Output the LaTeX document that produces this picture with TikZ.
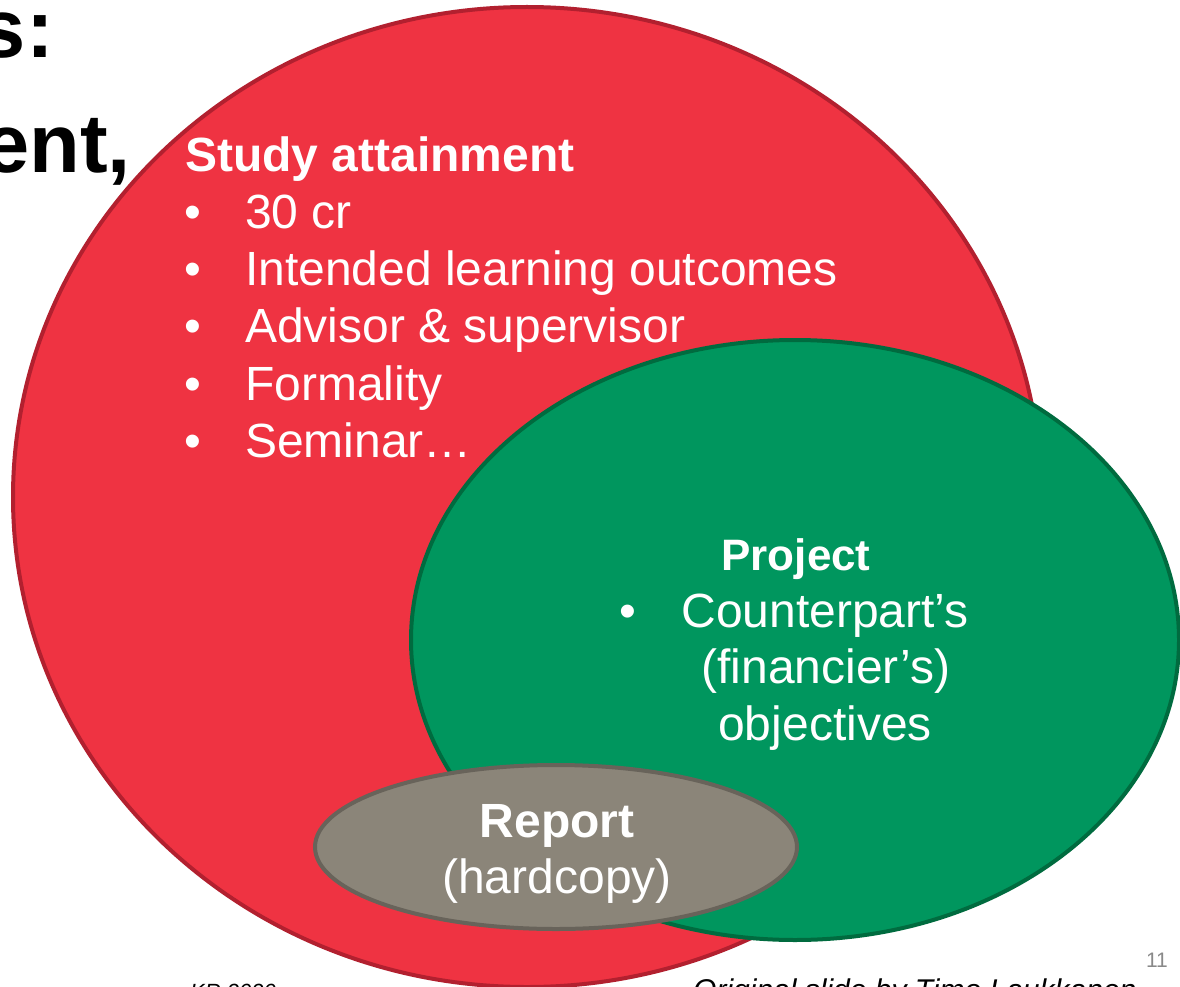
\documentclass[tikz,border=0pt]{standalone}
\usepackage{fontspec}
\setmainfont{Liberation Sans}
\definecolor{redfill}{HTML}{EF3342}
\definecolor{redline}{HTML}{B2202F}
\definecolor{greenfill}{HTML}{00965E}
\definecolor{greenline}{HTML}{006B3F}
\definecolor{grayfill}{HTML}{8B8579}
\definecolor{grayline}{HTML}{68635A}
\definecolor{pagenum}{HTML}{898989}
\tikzset{
  blob/.style={line width=4pt},
  wtext/.style={inner sep=0pt, text=white, font=\fontsize{48}{48}\selectfont},
  wbold/.style={wtext, font=\fontsize{48}{48}\selectfont\bfseries},
  title/.style={inner sep=0pt, text=black, font=\fontsize{83}{83}\selectfont\bfseries},
  foot/.style={inner sep=0pt, text=black, font=\fontsize{30}{30}\selectfont\itshape}
}
\begin{document}
\begin{tikzpicture}[x=1pt,y=-1pt]
\useasboundingbox (0,0) rectangle (1180,987);
\clip (0,0) rectangle (1180,987);
% title fragments
\node[title, anchor=base east] (t1) at (54,58) {s:};
\node[title, anchor=base east] (t2) at (131,173) {ent,};
% ellipses
\draw[blob, fill=redfill, draw=redline] (527,497) ellipse [x radius=514, y radius=490];
\draw[blob, fill=greenfill, draw=greenline] (795,640) ellipse [x radius=384, y radius=300];
\draw[blob, fill=grayfill, draw=grayline] (556,847) ellipse [x radius=241, y radius=82];
% study attainment
\node[wbold, anchor=base west] (sa) at (185,172) {Study attainment};
\foreach \t/\y [count=\i] in {30 cr/228, Intended learning outcomes/285, Advisor \& supervisor/342, Formality/400, Seminar…/457}{
  \node[wtext, anchor=base] (b\i) at (193,\y) {•};
  \node[wtext, anchor=base west] (l\i) at (245,\y) {\t};
}
% project
\node[wtext, font=\fontsize{44}{44}\selectfont\bfseries, anchor=base] (pj) at (796,570) {Project};
\node[wtext, anchor=base] (pb) at (628,627) {•};
\node[wtext, anchor=base] (p1) at (825,627) {Counterpart’s};
\node[wtext, anchor=base] (p2) at (826,683) {(financier’s)};
\node[wtext, anchor=base] (p3) at (825,740) {objectives};
% report
\node[wbold, anchor=base] (rp) at (557,837) {Report};
\node[wtext, anchor=base] (rh) at (557,893) {(hardcopy)};
% footer
\node[inner sep=0pt, text=pagenum, font=\fontsize{21}{21}\selectfont, anchor=base east] (pn) at (1168,967) {11};
\node[foot, anchor=base west] (os) at (693,1000) {Original slide by Timo Laukkanen};
\node[inner sep=0pt, text=black, font=\fontsize{22}{22}\selectfont\itshape, anchor=base west] (kr) at (190,999) {KR 2020};
\end{tikzpicture}
\end{document}
